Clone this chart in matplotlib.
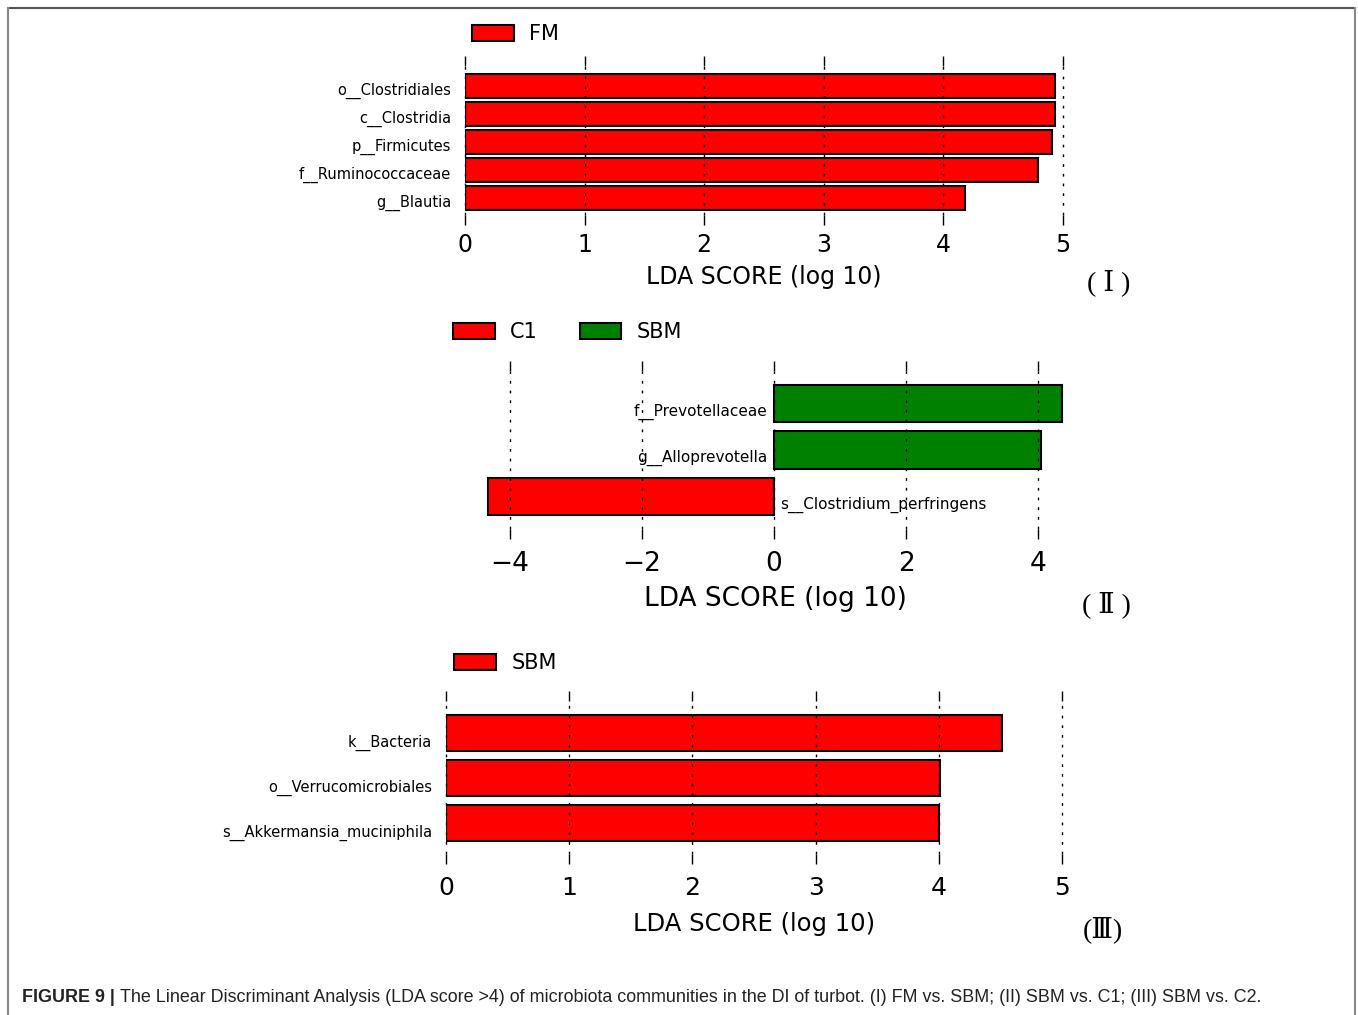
import matplotlib.pyplot as plt
from matplotlib.patches import Patch
from matplotlib.lines import Line2D

W, H = 1358, 1015

# (I) FM vs SBM
taxa1 = ['g__Blautia', 'f__Ruminococcaceae', 'p__Firmicutes', 'c__Clostridia', 'o__Clostridiales']
lda1 = [4.18, 4.79, 4.91, 4.93, 4.93]

# (II) SBM vs C1
taxa2 = ['s__Clostridium_perfringens', 'g__Alloprevotella', 'f__Prevotellaceae']
lda2 = [-4.34, 4.05, 4.36]
groups2 = ['C1', 'SBM', 'SBM']

# (III) SBM vs C2
taxa3 = ['s__Akkermansia_muciniphila', 'o__Verrucomicrobiales', 'k__Bacteria']
lda3 = [4.00, 4.01, 4.51]

colors = {'FM': '#ff0000', 'C1': '#ff0000', 'SBM': '#008000'}

plt.rcParams['font.family'] = 'DejaVu Sans'

fig = plt.figure(figsize=(W / 100, H / 100), dpi=100)


def px(x, y):
    return x / W, 1 - y / H


def make_axes(left, top, right, bottom, tsize=17, tpad=5):
    ax = fig.add_axes([left / W, 1 - bottom / H, (right - left) / W, (bottom - top) / H])
    for s in ax.spines.values():
        s.set_visible(False)
    ax.set_axisbelow(False)
    ax.xaxis.grid(True, color='black', linestyle=(0, (2, 5)), linewidth=1)
    ax.tick_params(axis='x', top=True, bottom=True, direction='out', length=7, width=1,
                   labelsize=tsize, pad=tpad)
    ax.tick_params(axis='y', length=0, labelsize=10.5, pad=10)
    return ax


def unclip_grid(ax):
    for g in ax.xaxis.get_gridlines():
        g.set_clip_on(False)


def legend(ax, names, x, y):
    handles = [Patch(facecolor=colors[n], edgecolor='black', linewidth=1.5) for n in names]
    ax.legend(handles, names, loc='center left', bbox_to_anchor=px(x, y),
              bbox_transform=fig.transFigure, frameon=False, ncol=len(names),
              fontsize=15, handlelength=2.0, handleheight=0.8, handletextpad=0.75,
              columnspacing=2.0, borderpad=0, borderaxespad=0)


def panel_label(text, x, y):
    fig.text(*px(x, y), text, ha='center', va='center', fontsize=20,
             family=['Liberation Serif', 'DejaVu Serif', 'Noto Sans CJK SC'])


# ---- panel I ----
ax1 = make_axes(465, 66, 1063, 215, tsize=17, tpad=6)
pos1 = list(range(len(taxa1)))
ax1.barh(pos1, lda1, height=0.85, color=colors['FM'], edgecolor='black', linewidth=1.5)
# labels sit slightly below bar centres, as in LEfSe output
ax1.set_yticks([p - 0.1 for p in pos1])
ax1.set_yticklabels(taxa1)
ax1.set_xlim(0, 5)
ax1.set_ylim(-0.6, 4.7)
ax1.set_xticks([0, 1, 2, 3, 4, 5])
unclip_grid(ax1)
fig.text(*px(764, 277), 'LDA SCORE (log 10)', ha='center', va='center', fontsize=17)
legend(ax1, ['FM'], 472, 34)
panel_label('( Ⅰ )', 1109, 283)

# ---- panel II ----
ax2 = make_axes(477, 371, 1071, 529, tsize=19, tpad=9)
pos2 = list(range(len(taxa2)))
ax2.barh(pos2, lda2, height=0.8, color=[colors[g] for g in groups2],
         edgecolor='black', linewidth=1.5)
for p, v, t in zip(pos2, lda2, taxa2):
    if v > 0:
        ax2.text(-0.1, p - 0.18, t, ha='right', va='center', fontsize=11)
    else:
        ax2.text(0.1, p - 0.18, t, ha='left', va='center', fontsize=11)
ax2.set_yticks([])
ax2.set_xlim(-4.5, 4.5)
ax2.set_ylim(-0.7, 2.7)
ax2.set_xticks([-4, -2, 0, 2, 4])
unclip_grid(ax2)
fig.text(*px(775, 599), 'LDA SCORE (log 10)', ha='center', va='center', fontsize=19)
legend(ax2, ['C1', 'SBM'], 453, 332)
panel_label('( Ⅱ )', 1106, 605)

# ---- panel III ----
ax3 = make_axes(446, 701, 1062, 854, tsize=18, tpad=9)
pos3 = list(range(len(taxa3)))
ax3.barh(pos3, lda3, height=0.8, color=colors['C1'], edgecolor='black', linewidth=1.5)
ax3.set_yticks([p - 0.17 for p in pos3])
ax3.set_yticklabels(taxa3)
ax3.set_xlim(0, 5)
ax3.set_ylim(-0.68, 2.7)
ax3.set_xticks([0, 1, 2, 3, 4, 5])
unclip_grid(ax3)
fig.text(*px(754, 924), 'LDA SCORE (log 10)', ha='center', va='center', fontsize=17.5)
h = [Patch(facecolor='#ff0000', edgecolor='black', linewidth=1.5)]
ax3.legend(h, ['SBM'], loc='center left', bbox_to_anchor=px(454, 663),
           bbox_transform=fig.transFigure, frameon=False, fontsize=15,
           handlelength=2.0, handleheight=0.8, handletextpad=0.75, borderpad=0, borderaxespad=0)
panel_label('(Ⅲ)', 1103, 930)

# frame around the figure
fig.add_artist(Line2D([8 / W, 1355 / W], [1 - 8 / H, 1 - 8 / H], color='#555555', linewidth=1.5))
fig.add_artist(Line2D([8 / W, 8 / W], [1 - 8 / H, 0], color='#888888', linewidth=1.5))
fig.add_artist(Line2D([1355 / W, 1355 / W], [1 - 8 / H, 0], color='#888888', linewidth=1.5))

# caption
cap_font = ['Liberation Sans', 'DejaVu Sans']
t1 = fig.text(*px(22, 997), 'FIGURE 9 | ', ha='left', va='center', fontsize=12.9,
              fontweight='bold', family=cap_font, color='#222222')
fig.canvas.draw()
bb = t1.get_window_extent(fig.canvas.get_renderer())
fig.text(bb.x1 / W, 1 - 997 / H,
         'The Linear Discriminant Analysis (LDA score >4) of microbiota communities in the DI of '
         'turbot. (I) FM vs. SBM; (II) SBM vs. C1; (III) SBM vs. C2.',
         ha='left', va='center', fontsize=12.9, family=cap_font, color='#222222')

fig.savefig('out.png', dpi=100)
